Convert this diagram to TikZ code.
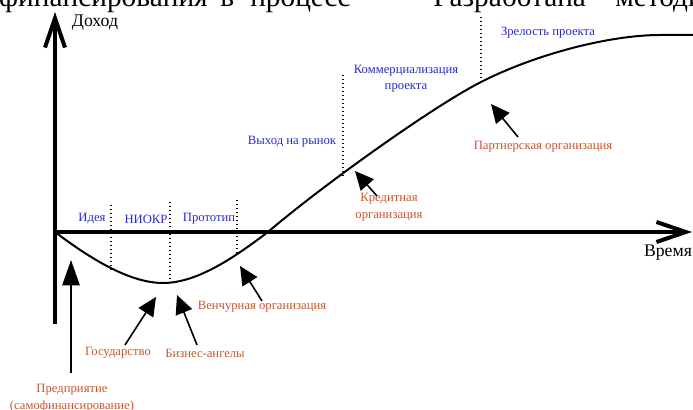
\documentclass[tikz,border=0pt]{standalone}
\usepackage{fontspec}
\setmainfont{Liberation Serif}
\usetikzlibrary{arrows.meta}
\definecolor{stageblue}{RGB}{40,40,210}
\definecolor{srcred}{RGB}{200,85,45}
\begin{document}
\begin{tikzpicture}[x=0.75pt,y=-0.75pt,
  axis/.style={line width=3pt, -{Straight Barb[length=22pt,width=15pt]}},
  axislabel/.style={font=\fontsize{13.3}{15}\selectfont, inner sep=0pt},
  stage/.style={text=stageblue, font=\fontsize{9.5}{12}\selectfont, inner sep=0pt, align=center},
  source/.style={text=srcred, font=\fontsize{9.5}{12.75}\selectfont, inner sep=0pt, align=center},
  sepline/.style={line width=1.1pt, dash pattern=on 1.1pt off 1.9pt},
  ptr/.style={line width=1.2pt, -{Triangle[length=14pt,width=13pt]}},
  bigptr/.style={line width=1.2pt, -{Triangle[length=19pt,width=13pt]}},
  headtext/.style={font=\fontsize{22}{24}\selectfont, inner sep=0pt},
]
\useasboundingbox (0,0) rectangle (693,410);
\begin{scope}
\clip (0,0) rectangle (693,410);
% clipped line of document text at the top
\node[headtext, anchor=base east] (hdA) at (208,7) {финансирования};
\node[headtext, anchor=base west] (hdB) at (220,7) {в};
\node[headtext, anchor=base west] (hdC) at (250,7) {процесс};
\node[headtext, anchor=base west] (hdD) at (433,7) {Разработана – методика};

% axes
\coordinate (O) at (55,232);
\coordinate (Ytop) at (55,12);
\coordinate (Ybot) at (55,324);
\coordinate (Xend) at (692,232);
\draw[axis] (Ybot) -- (Ytop);
\draw[line width=3pt] (53.5,232) -- (O);
\draw[axis] (O) -- (Xend);
\node[axislabel] (income) at (95,23) {Доход};
\node[axislabel] (time) at (668,253) {Время};

% curve
\draw[line width=1.5pt]
  (55,232) .. controls (85,254.5) and (127,283) .. (163,283)
  .. controls (199,283) and (238,254.5) .. (268,232)
  .. controls (318,189) and (431,107.5) .. (481,82)
  .. controls (536,54) and (610,35) .. (660,35)
  -- (695,35);

% stage separators
\draw[sepline] (111,205) -- (111,272);
\draw[sepline] (170,202) -- (170,283);
\draw[sepline] (237,200) -- (237,253);
\draw[sepline] (343,75) -- (343,178);
\draw[sepline] (481,17) -- (481,82);

% stage labels
\node[stage] (idea) at (92,219) {Идея};
\node[stage] (rnd) at (146,219) {НИОКР};
\node[stage] (proto) at (209,219) {Прототип};
\node[stage] (market) at (292,142) {Выход на рынок};
\node[stage] (comm) at (406,79) {Коммерциализация\\проекта};
\node[stage] (mature) at (548,33) {Зрелость проекта};

% sources of financing
\node[source] (firm) at (72,398.5) {Предприятие\\(самофинансирование)};
\node[source] (gov) at (118,353) {Государство};
\node[source] (angels) at (205,353) {Бизнес-ангелы};
\node[source] (venture) at (262,307) {Венчурная организация};
\node[source] (credit) at (389,207) {Кредитная\\организация};
\node[source] (partner) at (543,147) {Партнерская организация};

% pointer arrows
\coordinate (firmTail) at (71,373);
\coordinate (firmTip) at (71,260);
\coordinate (govTail) at (125,345);
\coordinate (govTip) at (156,297);
\coordinate (angTail) at (197,345);
\coordinate (angTip) at (177,295);
\coordinate (venTail) at (262,301);
\coordinate (venTip) at (240,266);
\coordinate (creTail) at (377,196);
\coordinate (creTip) at (355,171);
\coordinate (parTail) at (518,137);
\coordinate (parTip) at (491,104);
\draw[bigptr] (firmTail) -- (firmTip);
\draw[ptr] (govTail) -- (govTip);
\draw[ptr] (angTail) -- (angTip);
\draw[ptr] (venTail) -- (venTip);
\draw[ptr] (creTail) -- (creTip);
\draw[ptr] (parTail) -- (parTip);
\end{scope}
\end{tikzpicture}
\end{document}
